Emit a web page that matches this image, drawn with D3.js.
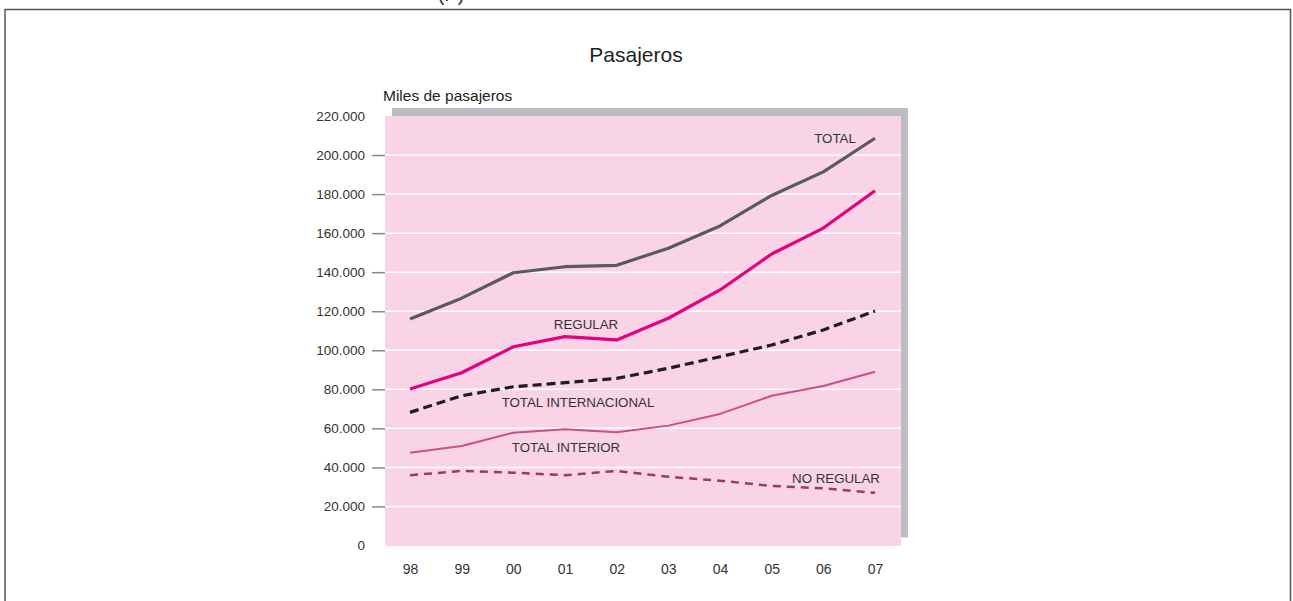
<!DOCTYPE html>
<html><head><meta charset="utf-8">
<script src="https://cdn.jsdelivr.net/npm/d3@7"></script>
<style>body{margin:0;background:#fff;}svg{display:block;}</style>
</head><body>
<script>
const years = ["98","99","00","01","02","03","04","05","06","07"];
const total = [116000,126700,139700,142800,143500,152300,163700,179300,191400,208600];
const regular = [80200,88500,101800,107000,105300,116400,130900,149300,162600,181700];
const totalInternacional = [68200,76700,81300,83400,85600,90800,96700,102700,110400,120100];
const totalInterior = [47500,51000,57800,59500,58000,61400,67400,76700,81700,89000];
const noRegular = [36000,38200,37300,36000,38200,35200,33200,30500,29300,27000];
const yTicks = [0,20000,40000,60000,80000,100000,120000,140000,160000,180000,200000,220000];
const seriesNames = ["TOTAL","REGULAR","TOTAL INTERNACIONAL","TOTAL INTERIOR","NO REGULAR"];

const W=1293,H=601;
const svg=d3.select("body").append("svg").attr("width",W).attr("height",H);
const sans='"Liberation Sans",Arial,sans-serif';

// frame
svg.append("rect").attr("x",5).attr("y",9.5).attr("width",1285.5).attr("height",620)
  .attr("fill","none").attr("stroke","#555").attr("stroke-width",1.5);
svg.append("text").attr("x",451).attr("y",1).attr("text-anchor","middle")
  .attr("font-family",sans).attr("font-size",20).attr("fill","#333").text("(P)");

const L=385,R=901,T=116,B=545.5;
const x=d3.scalePoint().domain(years).range([410,875]);
const y=d3.scaleLinear().domain([0,220000]).range([B,T]);

// shadow + plot bg
svg.append("rect").attr("x",L+7).attr("y",T-8).attr("width",R-L).attr("height",B-T).attr("fill","#bdbdc1");
svg.append("rect").attr("x",L).attr("y",T).attr("width",R-L).attr("height",B-T+0.5).attr("fill","#f9d4e6");

// gridlines
svg.append("g").selectAll("line").data(yTicks.filter(d=>d>0&&d<220000)).join("line")
  .attr("x1",L).attr("x2",R).attr("y1",d=>y(d)).attr("y2",d=>y(d))
  .attr("stroke","#fff").attr("stroke-width",1.5);

// y axis
const yAxis=d3.axisLeft(y).tickValues(yTicks).tickSize(13).tickPadding(7)
  .tickFormat(d=>d===0?"0":d3.format(",")(d).replace(/,/g,"."));
const ga=svg.append("g").attr("transform",`translate(${L},0)`).call(yAxis);
ga.select(".domain").remove();
ga.selectAll(".tick line").attr("stroke","#888").attr("stroke-width",1.5)
  .attr("opacity",d=>(d===0||d===220000)?0:1);
ga.selectAll(".tick text").attr("font-family",sans).attr("font-size",13.5).attr("fill","#333");

// x axis
const xAxis=d3.axisBottom(x).tickSize(0).tickPadding(12);
const gx=svg.append("g").attr("transform",`translate(0,${B+7})`).call(xAxis);
gx.select(".domain").remove();
gx.selectAll(".tick text").attr("font-family",sans).attr("font-size",14).attr("fill","#333");

// lines
const line=d3.line().x((d,i)=>x(years[i])).y(d=>y(d));
const styles=[
  {data:total,color:"#5a5a5a",w:3.2,dash:null},
  {data:regular,color:"#e6007e",w:3.2,dash:null},
  {data:totalInternacional,color:"#1e1e1e",w:3.2,dash:"9,5"},
  {data:totalInterior,color:"#cc4c8c",w:2,dash:null},
  {data:noRegular,color:"#9a3a6a",w:2.5,dash:"8,6"}
];
styles.forEach(s=>{
  svg.append("path").datum(s.data).attr("d",line).attr("fill","none")
    .attr("stroke",s.color).attr("stroke-width",s.w).attr("stroke-linejoin","round")
    .attr("stroke-dasharray",s.dash);
});

// series labels
const lab=[
  {t:seriesNames[0],x:835,v:206200},
  {t:seriesNames[1],x:586,v:111000},
  {t:seriesNames[2],x:578,v:71000},
  {t:seriesNames[3],x:566,v:48000},
  {t:seriesNames[4],x:836,v:32000}
];
svg.append("g").selectAll("text").data(lab).join("text")
  .attr("x",d=>d.x).attr("y",d=>y(d.v)).attr("text-anchor","middle")
  .attr("font-family",sans).attr("font-size",13.3).attr("fill","#333").text(d=>d.t);

// titles
svg.append("text").attr("x",636).attr("y",62).attr("text-anchor","middle")
  .attr("font-family",sans).attr("font-size",21).attr("fill","#222").text("Pasajeros");
svg.append("text").attr("x",383).attr("y",101)
  .attr("font-family",sans).attr("font-size",15.5).attr("fill","#222").text("Miles de pasajeros");
</script>
</body></html>
